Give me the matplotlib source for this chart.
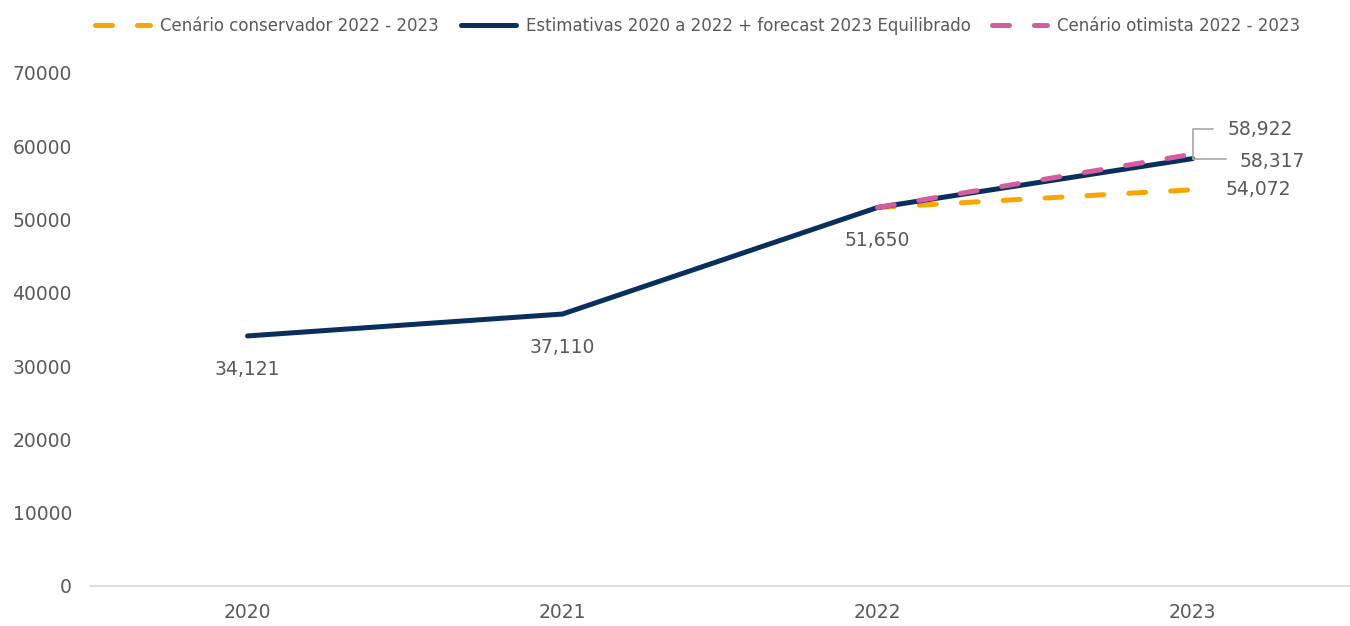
import matplotlib.pyplot as plt

plt.rcParams["font.family"] = ["DejaVu Sans"]
plt.rcParams["lines.scale_dashes"] = False

# Data
years = ["2020", "2021", "2022", "2023"]
base_values = [34121, 37110, 51650, 58317]
conservative_years = ["2022", "2023"]
conservative_values = [51650, 54072]
optimistic_years = ["2022", "2023"]
optimistic_values = [51650, 58922]
y_ticks = [0, 10000, 20000, 30000, 40000, 50000, 60000, 70000]

NAVY = "#0a2f5c"
ORANGE = "#f9a602"
PINK = "#d45d9f"
TEXT = "#595959"
LEADER = "#a6a6a6"

fig = plt.figure(figsize=(13.5, 6.26), dpi=100)
ax = fig.add_axes([0.0667, 0.0639, 0.9333, 0.8195])

xpos = {y: i for i, y in enumerate(years)}
dash = (0, (12.2, 18))

ax.plot([xpos[y] for y in conservative_years], conservative_values, color=ORANGE,
        lw=3.6, linestyle=dash, dash_capstyle="round", zorder=2,
        label="Cenário conservador 2022 - 2023")
ax.plot(range(len(years)), base_values, color=NAVY, lw=3.6, solid_capstyle="round",
        zorder=3, label="Estimativas 2020 a 2022 + forecast 2023 Equilibrado")
ax.plot([xpos[y] for y in optimistic_years], optimistic_values, color=PINK,
        lw=3.6, linestyle=dash, dash_capstyle="round", zorder=4,
        label="Cenário otimista 2022 - 2023")

# value labels under the first three points
for i, v in enumerate(base_values[:3]):
    ax.annotate(f"{v:,}", (i, v), xytext=(0, -24), textcoords="offset points",
                ha="center", va="center", fontsize=13.5, color=TEXT)

# 2023 labels with leader lines
last = len(years) - 1
ax.annotate(f"{optimistic_values[-1]:,}", (last, base_values[-1]), xytext=(25, 21),
            textcoords="offset points", ha="left", va="center", fontsize=13.5, color=TEXT,
            arrowprops=dict(arrowstyle="-", color=LEADER, lw=1.2,
                            connectionstyle="angle,angleA=0,angleB=90,rad=0",
                            shrinkA=8, shrinkB=0, relpos=(0, 0.5)))
ax.annotate(f"{base_values[-1]:,}", (last, base_values[-1]), xytext=(34, -2),
            textcoords="offset points", ha="left", va="center", fontsize=13.5, color=TEXT,
            arrowprops=dict(arrowstyle="-", color=LEADER, lw=1.2,
                            connectionstyle="angle,angleA=0,angleB=90,rad=0",
                            shrinkA=8, shrinkB=0, relpos=(0, 0.62)))
ax.annotate(f"{conservative_values[-1]:,}", (last, conservative_values[-1]), xytext=(24, 0),
            textcoords="offset points", ha="left", va="center", fontsize=13.5, color=TEXT)

ax.set_xlim(-0.5, len(years) - 0.5)
ax.set_ylim(0, 70000)
ax.set_xticks(range(len(years)))
ax.set_xticklabels(years)
ax.set_yticks(y_ticks)
ax.tick_params(axis="both", length=0, labelsize=13.5, labelcolor=TEXT)
ax.tick_params(axis="x", pad=12)
ax.tick_params(axis="y", pad=13)
for side in ["top", "right", "left"]:
    ax.spines[side].set_visible(False)
ax.spines["bottom"].set_color("#d9d9d9")
ax.spines["bottom"].set_linewidth(1.2)

fig.legend(loc="upper center", bbox_to_anchor=(0.517, 0.997), ncol=3, frameon=False,
           fontsize=12, labelcolor=TEXT, handlelength=3.3, columnspacing=1.3,
           handletextpad=0.6)

fig.savefig("out.png", dpi=100)
